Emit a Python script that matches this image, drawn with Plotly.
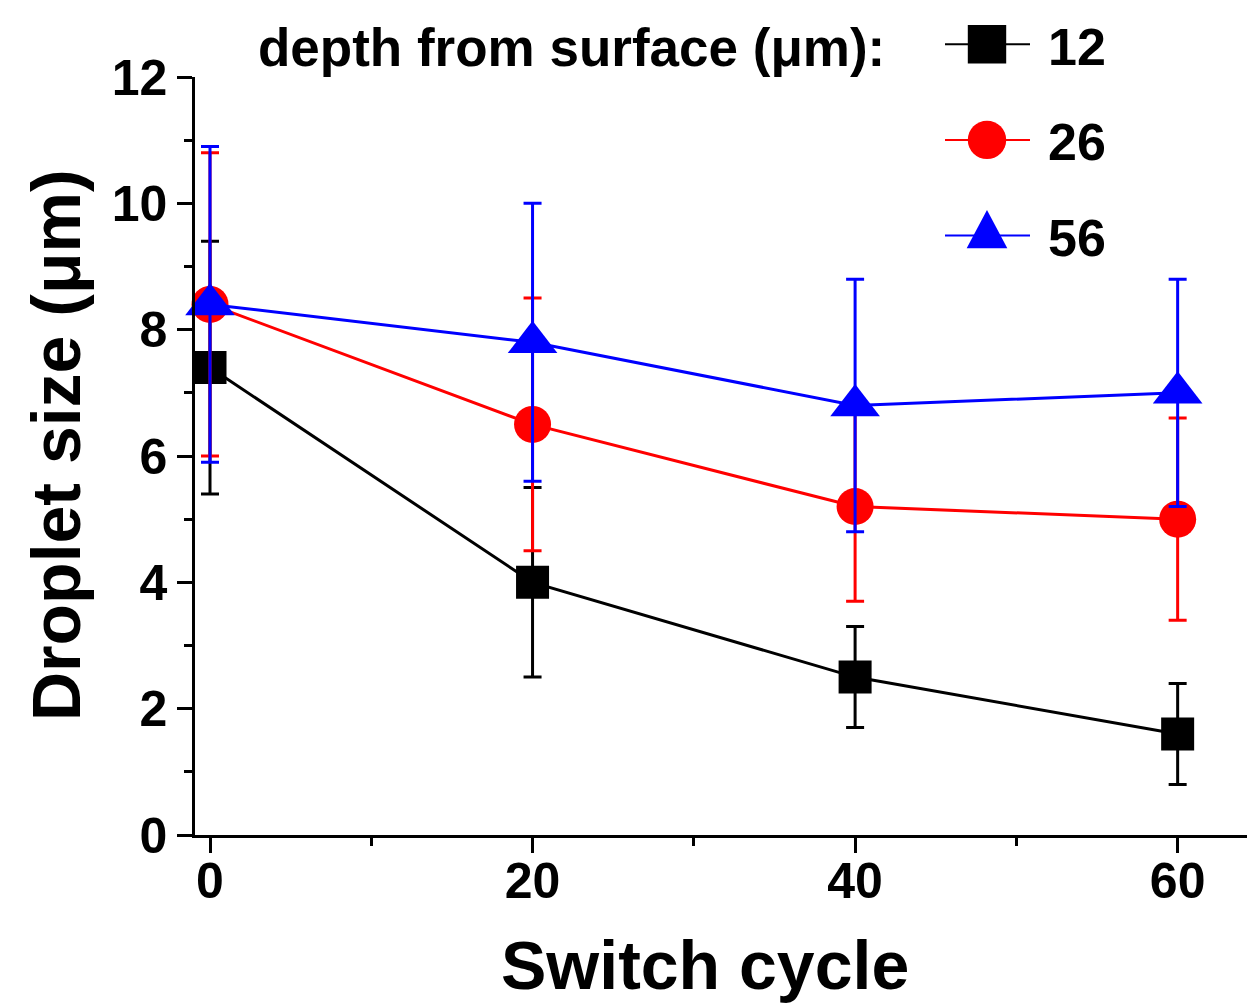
import plotly.graph_objects as go

# ---- data ----
cycles = [0, 20, 40, 60]
depth_labels = ["12", "26", "56"]
size_12 = [7.4, 4.0, 2.5, 1.6]
err_12 = [2.0, 1.5, 0.8, 0.8]
size_26 = [8.4, 6.5, 5.2, 5.0]
err_26 = [2.4, 2.0, 1.5, 1.6]
size_56 = [8.4, 7.8, 6.8, 7.0]
err_56 = [2.5, 2.2, 2.0, 1.8]

FONT = "Liberation Sans"
W, H = 1247, 1006
ML, MR, MT, MB = 195, 0, 77, 171
PW, PH = W - ML - MR, H - MT - MB

series = [
    (depth_labels[0], size_12, err_12, "#000000", "square", 33),
    (depth_labels[1], size_26, err_26, "#FF0000", "circle", 37),
    (depth_labels[2], size_56, err_56, "#0000FF", "triangle-up", 43),
]

fig = go.Figure()
for i, (name, y, e, col, sym, ms) in enumerate(series):
    fig.add_trace(go.Scatter(
        x=cycles, y=y, name=name, mode="lines+markers",
        line=dict(color=col, width=3),
        marker=dict(symbol=sym, size=ms, color=col, line=dict(width=0)),
        error_y=dict(type="data", array=e, visible=True, color=col,
                     thickness=3, width=9),
        legendgroup=f"g{i}", cliponaxis=False,
    ))

axis_common = dict(
    showline=True, linecolor="black", linewidth=2.5, showgrid=False,
    zeroline=False, ticks="outside", ticklen=15, tickwidth=2.5, tickcolor="black",
    tickfont=dict(family=FONT, size=50, color="black", weight="bold"),
)

fig.update_layout(
    width=W, height=H,
    margin=dict(l=ML, r=MR, t=MT, b=MB, autoexpand=False),
    paper_bgcolor="white", plot_bgcolor="white",
    font=dict(family=FONT, color="black"),
    xaxis=dict(range=[-0.93, 64.3], tickvals=[0, 20, 40, 60], ticklabelstandoff=-15,
               minor=dict(ticks="outside", ticklen=8, tickwidth=2.5,
                          tickcolor="black", dtick=10, tick0=0),
               **axis_common),
    yaxis=dict(range=[0, 12], tickvals=[0, 2, 4, 6, 8, 10, 12],
               minor=dict(ticks="outside", ticklen=8, tickwidth=2.5,
                          tickcolor="black", dtick=1, tick0=0),
               **axis_common),
    legend=dict(
        x=(1008 - ML) / PW, y=(835 - 4) / PH, xanchor="left", yanchor="top",
        bgcolor="rgba(0,0,0,0)", borderwidth=0,
        font=dict(family=FONT, size=52, color="black", weight="bold"),
        tracegroupgap=25, itemsizing="trace",
    ),
    showlegend=True,
    annotations=[
        dict(text="depth from surface (μm):", xref="paper", yref="paper",
             x=(256 - ML) / PW, y=(835 - 47) / PH, xanchor="left", yanchor="middle",
             showarrow=False,
             font=dict(family=FONT, size=53, color="black", weight="bold")),
        dict(text="Switch cycle", xref="paper", yref="paper",
             x=(705 - ML) / PW, y=(835 - 965) / PH, xanchor="center", yanchor="middle",
             showarrow=False,
             font=dict(family=FONT, size=68, color="black", weight="bold")),
        dict(text="Droplet size (μm)", xref="paper", yref="paper",
             x=(56 - ML) / PW, y=(835 - 445) / PH,
             xanchor="center", yanchor="middle", textangle=-90, showarrow=False,
             font=dict(family=FONT, size=68, color="black", weight="bold")),
    ],
)

post_js = """
var gd = document.getElementById('{plot_id}');
function fixLegend(){
  gd.querySelectorAll('g.legend [clip-path]').forEach(function(el){
    el.removeAttribute('clip-path');
  });
  gd.querySelectorAll('g.legend').forEach(function(el){
    el.removeAttribute('clip-path');
  });
  var traces = gd.querySelectorAll('g.legend g.traces');
  var scales = ['2.4', '2.4', '2.2,3.2'];
  traces.forEach(function(t, i){
    t.querySelectorAll('g.legendpoints path.scatterpts').forEach(function(p){
      p.setAttribute('transform', 'translate(-21,0) scale(' + scales[i % 3] + ')');
    });
    t.querySelectorAll('g.legendlines path').forEach(function(p){
      p.setAttribute('d', 'M-63,0h85');
      p.style.strokeWidth = '2px';
    });
  });
}
fixLegend();
gd.on('plotly_afterplot', fixLegend);
"""

fig.write_html("out.html", post_script=post_js)
